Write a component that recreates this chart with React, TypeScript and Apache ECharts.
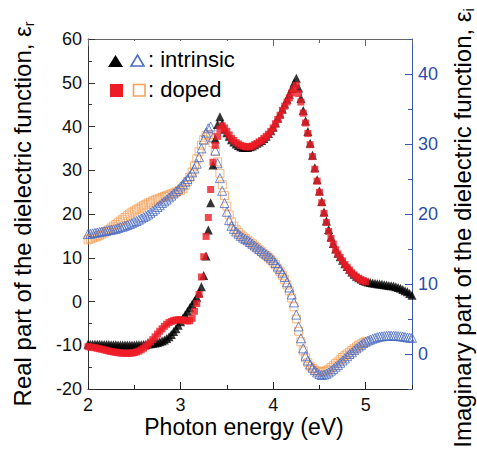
import React, { useEffect, useRef } from 'react';
import * as echarts from 'echarts';

// Photon-energy sampling of the spectra (eV)
const E_START = 2.0;
const E_STEP = 0.025;

// Imaginary part ε_i, intrinsic film, 2.00 – 5.50 eV (rows of 0.25 eV)
const intrinsicImag = [
  1.40, 1.40, 1.40, 1.40, 1.40, 1.38, 1.37, 1.36, 1.35, 1.34,
  1.33, 1.32, 1.31, 1.30, 1.30, 1.30, 1.30, 1.30, 1.30, 1.30,
  1.30, 1.31, 1.32, 1.33, 1.35, 1.38, 1.42, 1.46, 1.52, 1.58,
  1.65, 1.74, 1.85, 2.00, 2.20, 2.45, 2.80, 3.20, 3.60, 4.10,
  4.60, 5.10, 5.60, 6.10, 6.60, 7.10, 7.60, 8.10, 8.70, 9.60,
  11.2, 14.0, 17.7, 21.6, 27.0, 30.7, 32.8, 33.9, 32.9, 32.1,
  31.6, 31.1, 30.6, 30.3, 30.0, 29.8, 29.6, 29.5, 29.5, 29.5,
  29.6, 29.7, 29.9, 30.1, 30.3, 30.5, 30.8, 31.1, 31.5, 31.9,
  32.4, 33.0, 33.7, 34.3, 35.0, 35.7, 36.4, 37.1, 37.9, 38.7,
  39.4, 38.0, 36.5, 34.8, 33.3, 31.8, 30.1, 28.4, 26.6, 24.9,
  23.3, 21.8, 20.3, 19.0, 17.8, 16.7, 15.8, 15.0, 14.4, 13.9,
  13.4, 12.9, 12.5, 12.1, 11.7, 11.4, 11.1, 10.9, 10.7, 10.5,
  10.4, 10.3, 10.2, 10.15, 10.1, 10.05, 10.0, 9.95, 9.9, 9.85,
  9.8, 9.75, 9.7, 9.6, 9.5, 9.4, 9.2, 9.05, 8.9, 8.65,
  8.4,
];

// Imaginary part ε_i, doped film, 2.00 – 5.00 eV
const dopedImag = [
  1.05, 1.00, 0.95, 0.90, 0.82, 0.75, 0.68, 0.60, 0.52, 0.44,
  0.36, 0.30, 0.24, 0.19, 0.15, 0.12, 0.10, 0.10, 0.11, 0.14,
  0.20, 0.30, 0.42, 0.60, 0.82, 1.08, 1.38, 1.70, 2.05, 2.45,
  2.85, 3.25, 3.60, 3.95, 4.25, 4.50, 4.65, 4.78, 4.86, 4.90,
  4.90, 4.85, 4.78, 4.72, 4.75, 5.10, 6.10, 7.20, 8.50, 11.0,
  13.9, 16.8, 19.5, 23.5, 27.4, 29.8, 31.1, 32.1, 32.6, 32.3,
  31.8, 31.3, 30.8, 30.5, 30.2, 30.0, 29.8, 29.7, 29.6, 29.6,
  29.6, 29.7, 29.9, 30.1, 30.3, 30.5, 30.8, 31.1, 31.4, 31.8,
  32.3, 32.9, 33.5, 34.1, 34.8, 35.4, 36.0, 36.6, 37.3, 37.9,
  38.4, 37.2, 36.0, 34.4, 33.0, 31.5, 29.9, 28.2, 26.4, 24.7,
  23.1, 21.6, 20.1, 18.8, 17.5, 16.5, 15.7, 14.9, 14.3, 13.8,
  13.3, 12.8, 12.4, 12.0, 11.6, 11.3, 11.0, 10.8, 10.6, 10.45,
  10.3,
];

// Real part ε_r, intrinsic film, 2.00 – 5.50 eV
const intrinsicReal = [
  15.4, 15.5, 15.6, 15.7, 15.8, 15.9, 16.0, 16.1, 16.2, 16.3,
  16.4, 16.5, 16.6, 16.8, 17.0, 17.1, 17.3, 17.5, 17.7, 17.9,
  18.2, 18.4, 18.7, 19.0, 19.3, 19.6, 19.9, 20.3, 20.7, 21.1,
  21.6, 22.0, 22.5, 22.9, 23.3, 23.8, 24.2, 24.7, 25.2, 25.7,
  26.3, 26.8, 27.4, 28.0, 28.7, 29.5, 30.4, 31.5, 33.0, 35.0,
  37.0, 38.6, 39.6, 40.0, 37.5, 34.5, 31.6, 28.2, 25.3, 22.5,
  20.5, 18.6, 17.3, 16.6, 16.0, 15.5, 15.0, 14.6, 14.3, 14.0,
  13.6, 13.2, 12.8, 12.4, 12.0, 11.6, 11.2, 10.8, 10.4, 10.0,
  9.5, 8.8, 8.0, 7.4, 6.6, 5.6, 4.4, 3.2, 1.6, -0.2,
  -3.0, -5.7, -8.4, -10.7, -12.4, -13.5, -14.4, -15.1, -15.7, -16.2,
  -16.6, -16.8, -16.7, -16.5, -16.2, -15.8, -15.4, -14.9, -14.5, -14.0,
  -13.5, -13.0, -12.5, -12.0, -11.6, -11.1, -10.7, -10.3, -9.9, -9.5,
  -9.2, -8.9, -8.7, -8.5, -8.3, -8.15, -8.0, -7.95, -7.9, -7.85,
  -7.8, -7.8, -7.8, -7.85, -7.9, -7.95, -8.0, -8.1, -8.2, -8.25,
  -8.3,
];

// Real part ε_r, doped film, 2.00 – 5.00 eV
const dopedReal = [
  14.1, 14.3, 14.5, 14.7, 14.9, 15.1, 15.4, 15.7, 16.0, 16.4,
  16.8, 17.2, 17.6, 18.0, 18.4, 18.8, 19.2, 19.6, 20.0, 20.4,
  20.7, 21.0, 21.3, 21.6, 21.9, 22.2, 22.5, 22.7, 23.0, 23.2,
  23.4, 23.6, 23.8, 24.0, 24.2, 24.4, 24.6, 24.8, 25.0, 25.2,
  25.4, 25.8, 26.5, 27.4, 28.4, 29.6, 31.0, 32.6, 34.2, 35.7,
  37.0, 37.9, 38.2, 37.6, 36.3, 34.3, 31.9, 29.3, 26.7, 24.2,
  21.8, 19.8, 18.2, 17.2, 16.4, 15.8, 15.2, 14.8, 14.4, 14.0,
  13.6, 13.2, 12.7, 12.3, 11.8, 11.4, 10.9, 10.5, 10.0, 9.5,
  9.0, 8.4, 7.6, 6.9, 6.0, 5.0, 3.8, 2.4, 0.8, -1.2,
  -4.0, -6.8, -9.2, -11.3, -12.9, -14.0, -14.8, -15.3, -15.7, -15.9,
  -16.1, -16.1, -16.0, -15.8, -15.5, -15.1, -14.7, -14.2, -13.8, -13.3,
  -12.8, -12.4, -12.0, -11.6, -11.2, -10.8, -10.4, -10.0, -9.7, -9.4,
  -9.1,
];

// Axis ticks
const xMajorTicks = [2, 3, 4, 5];
const rightMajorTicks = [0, 10, 20, 30, 40];

const FONT = '"Liberation Sans", Arial, Helvetica, sans-serif';
const BLACK = '#000000';
const RED = '#ee1c25';
const BLUE = '#4a6cc4';
const ORANGE = '#f7a25c';
const AXIS_BLUE = '#3a5ab4';
const LABEL_BLUE = '#2c4ea8';

const toPoints = (vals: number[]) =>
  vals.map((v, i) => [+(E_START + i * E_STEP).toFixed(3), v]);

const xBase = {
  type: 'value' as const,
  min: 2,
  max: 5.5,
  splitLine: { show: false },
};

const rightBase = {
  type: 'value' as const,
  min: -5,
  max: 45,
  position: 'right' as const,
  splitLine: { show: false },
};

const titleRich = {
  m: { fontSize: 24, fontFamily: FONT, lineHeight: 27, fill: '#000' },
  s: { fontSize: 14, fontFamily: FONT, lineHeight: 12, verticalAlign: 'bottom', fill: '#000' },
};

const option: any = {
  animation: false,
  backgroundColor: '#ffffff',
  textStyle: { fontFamily: FONT },
  grid: { left: 88, right: 65, top: 39, bottom: 63 },
  xAxis: [
    {
      ...xBase,
      position: 'bottom',
      interval: 0.5,
      axisLine: { onZero: false, lineStyle: { color: '#222', width: 1 } },
      axisTick: { inside: true, length: 4, lineStyle: { color: '#222' } },
      axisLabel: {
        fontSize: 18,
        color: '#111',
        margin: 7,
        fontFamily: FONT,
        formatter: (v: number) => (Number.isInteger(v) && v <= 5 ? String(v) : ''),
      },
    },
    {
      ...xBase,
      position: 'bottom',
      interval: 1,
      axisLine: { show: false, onZero: false },
      axisTick: { inside: true, length: 7, customValues: xMajorTicks, lineStyle: { color: '#222' } },
      axisLabel: { show: false },
    },
    {
      ...xBase,
      position: 'top',
      interval: 0.5,
      axisLine: { onZero: false, lineStyle: { color: '#666', width: 1 } },
      axisTick: { inside: true, length: 4, lineStyle: { color: '#666' } },
      axisLabel: { show: false },
    },
    {
      ...xBase,
      position: 'top',
      interval: 1,
      axisLine: { show: false, onZero: false },
      axisTick: { inside: true, length: 7, customValues: xMajorTicks, lineStyle: { color: '#666' } },
      axisLabel: { show: false },
    },
  ],
  yAxis: [
    {
      type: 'value',
      min: -20,
      max: 60,
      interval: 10,
      position: 'left',
      splitLine: { show: false },
      axisLine: { show: true, onZero: false, lineStyle: { color: '#333', width: 1 } },
      axisTick: { show: true, inside: true, length: 7, lineStyle: { color: '#333' } },
      minorTick: { show: true, splitNumber: 2, length: 4, lineStyle: { color: '#333' } },
      axisLabel: { fontSize: 18, color: '#111', margin: 6, fontFamily: FONT },
    },
    {
      ...rightBase,
      interval: 5,
      axisLine: { show: true, onZero: false, lineStyle: { color: AXIS_BLUE, width: 1 } },
      axisTick: { show: true, inside: true, length: 4, lineStyle: { color: AXIS_BLUE } },
      axisLabel: {
        fontSize: 18,
        color: LABEL_BLUE,
        margin: 6,
        fontFamily: FONT,
        formatter: (v: number) => (v % 10 === 0 && v >= 0 && v <= 40 ? String(v) : ''),
      },
    },
    {
      ...rightBase,
      interval: 5,
      axisLine: { show: false, onZero: false },
      axisTick: { show: true, inside: true, length: 7, customValues: rightMajorTicks, lineStyle: { color: AXIS_BLUE } },
      axisLabel: { show: false },
    },
  ],
  series: [
    {
      name: 'doped, real',
      type: 'scatter',
      xAxisIndex: 0,
      yAxisIndex: 0,
      data: toPoints(dopedReal),
      symbol: 'rect',
      symbolSize: 8,
      itemStyle: { color: 'rgba(255,255,255,0)', borderColor: ORANGE, borderWidth: 1 },
      z: 2,
    },
    {
      name: 'intrinsic, real',
      type: 'scatter',
      xAxisIndex: 0,
      yAxisIndex: 0,
      data: toPoints(intrinsicReal),
      symbol: 'triangle',
      symbolSize: [9, 9],
      itemStyle: { color: 'rgba(255,255,255,0)', borderColor: BLUE, borderWidth: 1 },
      z: 3,
    },
    {
      name: 'intrinsic, imaginary',
      type: 'scatter',
      xAxisIndex: 0,
      yAxisIndex: 1,
      data: toPoints(intrinsicImag),
      symbol: 'triangle',
      symbolSize: [9, 9],
      itemStyle: { color: BLACK },
      z: 4,
    },
    {
      name: 'doped, imaginary',
      type: 'scatter',
      xAxisIndex: 0,
      yAxisIndex: 1,
      data: toPoints(dopedImag),
      symbol: 'rect',
      symbolSize: 7,
      itemStyle: { color: RED },
      z: 5,
    },
  ],
  graphic: [
    // legend box
    { type: 'rect', shape: { x: 98, y: 41, width: 148, height: 60 }, style: { fill: '#ffffff' }, z: 1 },
    { type: 'polygon', shape: { points: [[108, 67], [123, 67], [115.5, 55]] }, style: { fill: BLACK }, z: 10 },
    { type: 'polygon', shape: { points: [[131, 66], [144, 66], [137.5, 55]] }, style: { fill: 'none', stroke: BLUE, lineWidth: 1.6 }, z: 10 },
    { type: 'text', x: 148, y: 59, style: { text: ': intrinsic', fontSize: 22, fontFamily: FONT, fill: '#000', verticalAlign: 'middle', align: 'left' }, z: 10 },
    { type: 'rect', shape: { x: 110, y: 84, width: 13, height: 13 }, style: { fill: RED }, z: 10 },
    { type: 'rect', shape: { x: 133.5, y: 84.5, width: 11.5, height: 11.5 }, style: { fill: 'none', stroke: ORANGE, lineWidth: 1.6 }, z: 10 },
    { type: 'text', x: 148, y: 89, style: { text: ': doped', fontSize: 22, fontFamily: FONT, fill: '#000', verticalAlign: 'middle', align: 'left' }, z: 10 },
    // axis titles
    {
      type: 'text',
      x: 22,
      y: 214,
      rotation: Math.PI / 2,
      style: {
        text: '{m|Real part of the dielectric function, ε}{s|r}',
        align: 'center',
        verticalAlign: 'middle',
        fill: '#000',
        rich: titleRich,
      },
      z: 10,
    },
    {
      type: 'text',
      x: 462,
      y: 228,
      rotation: Math.PI / 2,
      style: {
        text: '{m|Imaginary part of the dielectric function, ε}{s|i}',
        align: 'center',
        verticalAlign: 'middle',
        fill: '#000',
        rich: titleRich,
      },
      z: 10,
    },
    {
      type: 'text',
      x: 244,
      y: 427,
      style: { text: 'Photon energy (eV)', fontSize: 23, fontFamily: FONT, fill: '#000', align: 'center', verticalAlign: 'middle' },
      z: 10,
    },
  ],
};

export default function App() {
  const ref = useRef<HTMLDivElement>(null);
  useEffect(() => {
    document.body.style.margin = '0';
    const chart = echarts.init(ref.current as HTMLDivElement, null, { renderer: 'svg' });
    chart.setOption(option);
    return () => chart.dispose();
  }, []);
  return <div ref={ref} style={{ width: 477, height: 452 }} />;
}
